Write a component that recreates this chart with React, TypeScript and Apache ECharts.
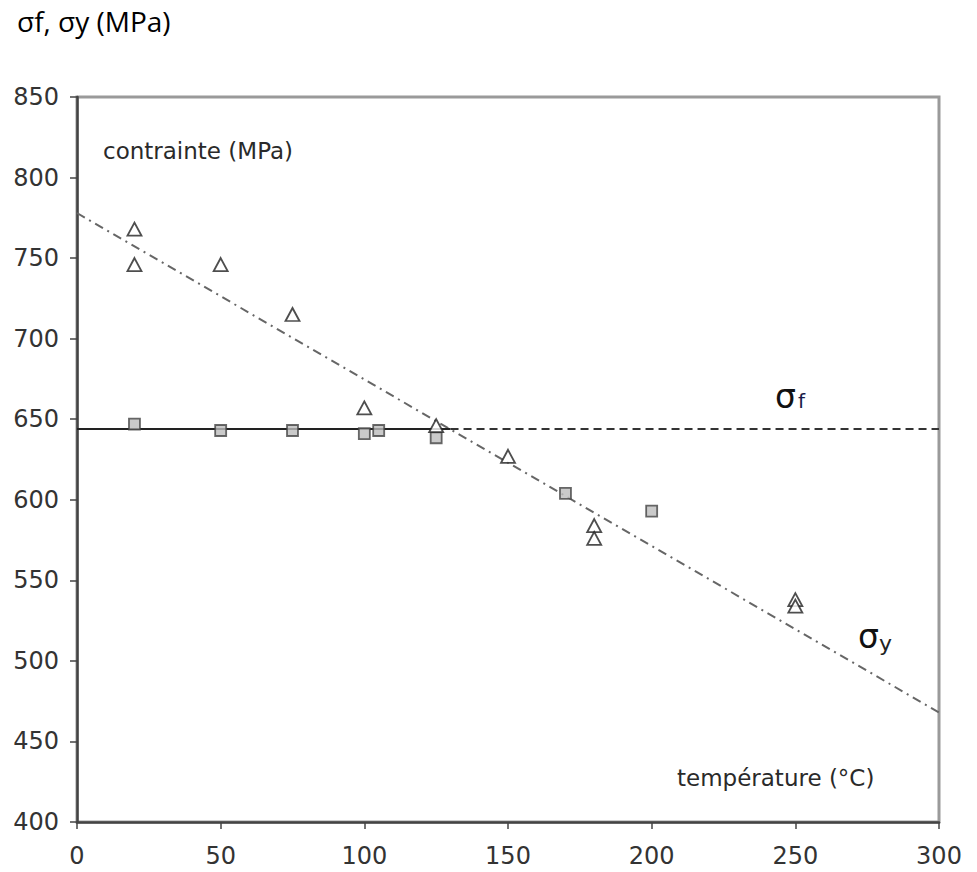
import React, { useEffect, useRef } from "react";
import * as echarts from "echarts";

// Data
const triangleTemps = [20, 20, 50, 75, 100, 125, 150, 180, 180, 250, 250];
const triangleStress = [768, 746, 746, 715, 657, 646, 627, 584, 576, 538, 534];
const squareTemps = [20, 50, 75, 100, 105, 125, 170, 200];
const squareStress = [647, 643, 643, 641, 643, 638.5, 604, 593];
const sigmaFLevel = 644;
const sigmaFBreakTemp = 130;
const sigmaYLineTemps = [0, 300];
const sigmaYLineStress = [778, 468];
const xTicks = { min: 0, max: 300, interval: 50 };
const yTicks = { min: 400, max: 850, interval: 50 };

const FONT = "DejaVu Sans";

export default function App() {
  const ref = useRef<HTMLDivElement>(null);
  useEffect(() => {
    if (!ref.current) return;
    const chart = echarts.init(ref.current, undefined, { renderer: "svg" });
    const tri = triangleTemps.map((t, i) => [t, triangleStress[i]]);
    const sq = squareTemps.map((t, i) => [t, squareStress[i]]);
    const option: any = {
      animation: false,
      backgroundColor: "#ffffff",
      grid: {
        left: 77,
        top: 97,
        width: 862,
        height: 725,
        show: true,
        borderColor: "#9a9a9a",
        borderWidth: 3,
        backgroundColor: "transparent",
        containLabel: false,
        outerBoundsMode: "none",
      },
      xAxis: {
        type: "value",
        min: xTicks.min,
        max: xTicks.max,
        interval: xTicks.interval,
        splitLine: { show: false },
        axisLine: { show: true, onZero: false, lineStyle: { color: "#444", width: 2.5 } },
        axisTick: { show: true, inside: false, length: 7, lineStyle: { color: "#444", width: 1.5 } },
        axisLabel: { color: "#333", fontFamily: FONT, fontSize: 24, margin: 22 },
      },
      yAxis: {
        type: "value",
        min: yTicks.min,
        max: yTicks.max,
        interval: yTicks.interval,
        splitLine: { show: false },
        axisLine: { show: true, onZero: false, lineStyle: { color: "#444", width: 2.5 } },
        axisTick: { show: true, inside: false, length: 7, lineStyle: { color: "#444", width: 1.5 } },
        axisLabel: { color: "#333", fontFamily: FONT, fontSize: 24, margin: 18 },
      },
      series: [
        {
          type: "line",
          data: [
            [sigmaYLineTemps[0], sigmaYLineStress[0]],
            [sigmaYLineTemps[1], sigmaYLineStress[1]],
          ],
          symbol: "none",
          lineStyle: { color: "#666", width: 2, type: [9, 5, 2, 5] },
          z: 2,
        },
        {
          type: "line",
          data: [
            [0, sigmaFLevel],
            [sigmaFBreakTemp, sigmaFLevel],
          ],
          symbol: "none",
          lineStyle: { color: "#222", width: 2, type: "solid" },
          z: 2,
        },
        {
          type: "line",
          data: [
            [sigmaFBreakTemp, sigmaFLevel],
            [300, sigmaFLevel],
          ],
          symbol: "none",
          lineStyle: { color: "#333", width: 2, type: [8, 5] },
          z: 2,
        },
        {
          type: "scatter",
          data: sq,
          symbol: "rect",
          symbolSize: 11,
          itemStyle: { color: "#bdbdbd", borderColor: "#444", borderWidth: 1.8 },
          z: 3,
        },
        {
          type: "scatter",
          data: tri,
          symbol: "triangle",
          symbolSize: [14, 13],
          itemStyle: { color: "#ffffff", borderColor: "#222", borderWidth: 1.8 },
          z: 4,
        },
      ],
      graphic: [
        {
          type: "text",
          left: 17,
          top: 7,
          style: { text: "σf, σy (MPa)", fontFamily: "Open Sans", fontSize: 28, fill: "#000" },
        },
        {
          type: "text",
          x: 103,
          y: 151,
          style: {
            text: "contrainte (MPa)",
            fontFamily: FONT,
            fontSize: 23,
            fill: "#2a2a2a",
            verticalAlign: "middle",
          },
        },
        {
          type: "text",
          x: 677,
          y: 778,
          style: {
            text: "température (°C)",
            fontFamily: FONT,
            fontSize: 23,
            fill: "#2a2a2a",
            verticalAlign: "middle",
          },
        },
        {
          type: "text",
          x: 775,
          y: 396,
          style: { text: "σ", fontFamily: FONT, fontSize: 33, fill: "#111", verticalAlign: "middle" },
        },
        {
          type: "text",
          x: 798,
          y: 401,
          style: { text: "f", fontFamily: FONT, fontSize: 20, fill: "#1a1a4a", verticalAlign: "middle" },
        },
        {
          type: "text",
          x: 858,
          y: 636,
          style: { text: "σ", fontFamily: FONT, fontSize: 33, fill: "#111", verticalAlign: "middle" },
        },
        {
          type: "text",
          x: 879,
          y: 643,
          style: { text: "y", fontFamily: FONT, fontSize: 22, fill: "#222", verticalAlign: "middle" },
        },
      ],
    };
    chart.setOption(option);
    return () => chart.dispose();
  }, []);
  return (
    <div
      ref={ref}
      style={{ position: "absolute", left: 0, top: 0, width: 977, height: 872 }}
    />
  );
}
